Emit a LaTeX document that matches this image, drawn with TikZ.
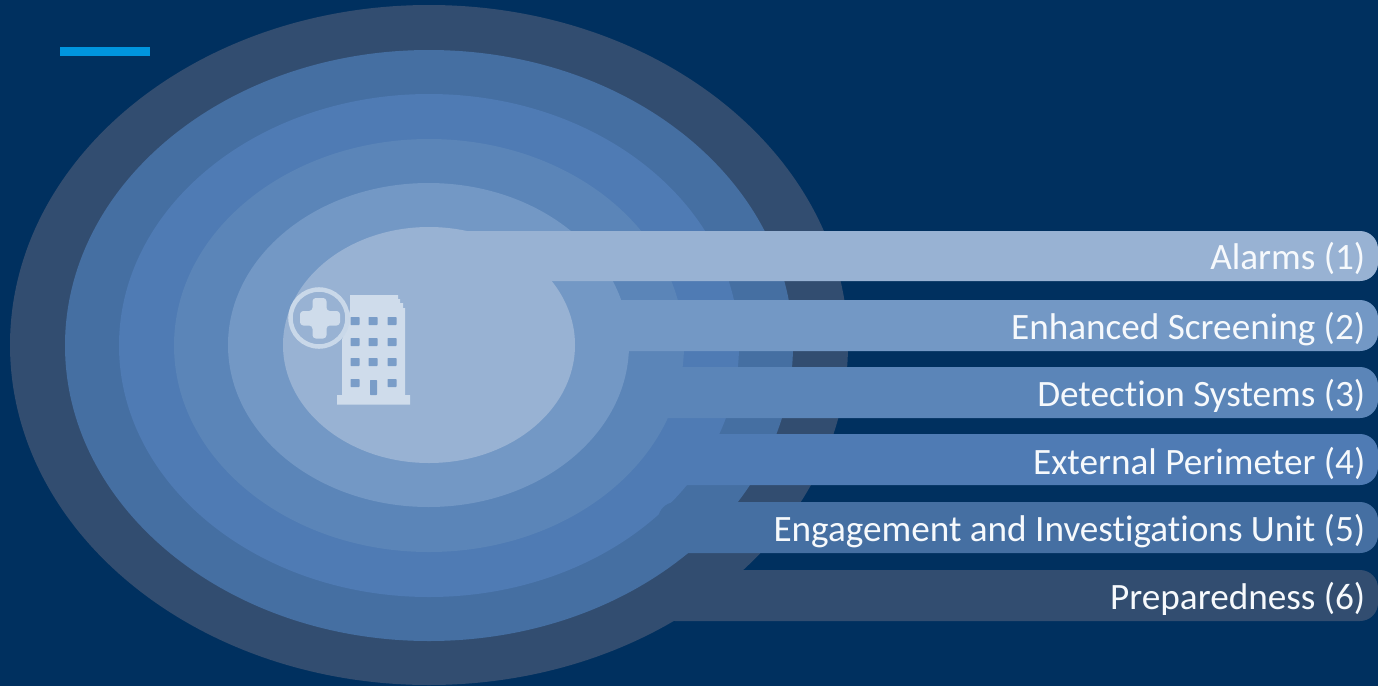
\documentclass[tikz,border=0pt]{standalone}
\usepackage{fontspec}
\setmainfont[RawFeature=-liga]{Carlito}
\definecolor{bgc}{HTML}{00305F}
\definecolor{c1}{HTML}{324D70}
\definecolor{c2}{HTML}{456FA2}
\definecolor{c3}{HTML}{4F7BB4}
\definecolor{c4}{HTML}{5B85B8}
\definecolor{c5}{HTML}{7398C5}
\definecolor{c6}{HTML}{98B2D3}
\definecolor{ic}{HTML}{CFDCEB}
\definecolor{acc}{HTML}{0095DE}
\definecolor{tx}{HTML}{F6F9FC}
\tikzset{
  x=0.75pt,y=-0.75pt,
  barshape/.style={rounded corners=13.5pt},
  lab/.style={anchor=east,text=tx,font=\fontsize{27.9pt}{32pt}\selectfont,inner sep=0pt},
  icon/.style={fill=ic,draw=none},
  win/.style={fill=c5!80!c6,draw=none,rounded corners=0.5pt}
}
\begin{document}
\begin{tikzpicture}
\useasboundingbox (0,0) rectangle (1378,686);
\fill[bgc] (0,0) rectangle (1378,686);
\fill[acc] (60,47) rectangle (150,55.5);
% rings
\fill[c1] (429,345) ellipse [x radius=419,y radius=340];
\fill[c2] (429,345.5) ellipse [x radius=364,y radius=295.5];
\fill[c3] (429,345.5) ellipse [x radius=310,y radius=251.5];
\fill[c4] (429,345.5) ellipse [x radius=255,y radius=206.5];
\fill[c5] (428.5,345) ellipse [x radius=200.5,y radius=162];
\fill[c6] (429,345) ellipse [x radius=146,y radius=118];
% bars
\fill[c1,barshape] (657,570) rectangle (1378,621);
\fill[c2,barshape] (658,502) rectangle (1378,553);
\fill[c3,barshape] (665,434) rectangle (1378,485);
\fill[c4,barshape] (640,367) rectangle (1378,418);
\fill[c5,barshape] (595,300) rectangle (1378,351);
\fill[c6,barshape] (440,231) rectangle (1378,281);
% labels
\node[lab] (t1) at (1365.5,258.5) {Alarms (1)};
\node[lab] (t2) at (1365.5,329) {Enhanced Screening (2)};
\node[lab] (t3) at (1365.5,396) {Detection Systems (3)};
\node[lab] (t4) at (1365.5,463) {External Perimeter (4)};
\node[lab] (t5) at (1365.5,531) {Engagement and Investigations Unit (5)};
\node[lab] (t6) at (1365.5,599) {Preparedness (6)};
% building icon
\fill[icon] (337,404.5) -- (337,395) -- (342,395) -- (342,340) -- (350,310) -- (350,295) -- (398,295) -- (398,299) -- (400,299) -- (400,303) -- (403,303) -- (403,308) -- (405,308) -- (405,395) -- (410,395) -- (410,404.5) -- cycle;
\foreach \cx in {355,373,392}
  \foreach \cy in {321,342,362}
    \fill[win] (\cx-4.5,\cy-4) rectangle (\cx+4.5,\cy+4);
\fill[win] (350.5,379) rectangle (359.5,387);
\fill[win] (387.5,379) rectangle (396.5,387);
\fill[win] (370,380) rectangle (377,395);
% medical badge
\fill[c6,draw=ic!90!c6,line width=3.4pt] (319,318) circle [radius=28.5];
\fill[icon,rounded corners=2.5pt] (312.5,298) -- (326.5,298) -- (326.5,311) -- (340,311) -- (340,325.5) -- (326.5,325.5) -- (326.5,338.5) -- (312.5,338.5) -- (312.5,325.5) -- (300,325.5) -- (300,311) -- (312.5,311) -- cycle;
\end{tikzpicture}
\end{document}
